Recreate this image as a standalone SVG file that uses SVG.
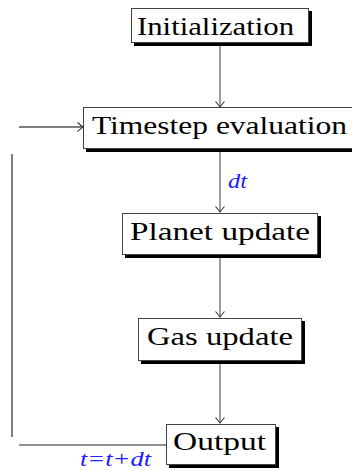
<svg xmlns="http://www.w3.org/2000/svg" width="352" height="471" viewBox="0 0 352 471">
<style>
.box{fill:#fff;stroke:#444;stroke-width:1}
.sh{fill:#000}
.lbl{font-family:"Liberation Serif","DejaVu Serif",serif;font-size:26px;fill:#000}
.math{font-family:"Liberation Serif","DejaVu Serif",serif;font-style:italic;font-size:21px;fill:#2020ff}
.c{stroke:#6a6a6a;stroke-width:1.3;fill:none}
.k{stroke:#000;stroke-width:1;fill:none}
</style>
<defs>
<marker id="ah" markerUnits="userSpaceOnUse" markerWidth="12" markerHeight="12" viewBox="-8 -6 10 12" refX="0" refY="0" orient="auto">
<path d="M-5.5,-4.5 Q-1.5,-1 0,0 Q-1.5,1 -5.5,4.5" fill="none" stroke="#333" stroke-width="1.1"/>
</marker>
</defs>
<g id="connectors">
<line class="c" x1="220" y1="43" x2="220" y2="107" marker-end="url(#ah)"/>
<line class="c" x1="220" y1="152" x2="220" y2="212" marker-end="url(#ah)"/>
<line class="c" x1="220" y1="258" x2="220" y2="317" marker-end="url(#ah)"/>
<line class="c" x1="220" y1="364" x2="220" y2="423" marker-end="url(#ah)"/>
<line class="c" x1="166" y1="445" x2="19" y2="445"/>
<line class="k" x1="12" y1="437" x2="12" y2="154"/>
<line class="k" x1="19" y1="127" x2="83" y2="127" marker-end="url(#ah)"/>
<text class="math" x="228" y="188" textLength="19" lengthAdjust="spacingAndGlyphs">dt</text>
<text class="math" x="80" y="466" textLength="71" lengthAdjust="spacingAndGlyphs">t=t+dt</text>
</g>
<g id="init">
<rect class="sh" x="134" y="11" width="178" height="35"/>
<rect class="box" x="131.5" y="8.5" width="177" height="34"/>
<text class="lbl" x="137" y="35" textLength="157" lengthAdjust="spacingAndGlyphs">Initialization</text>
</g>
<g id="timestep">
<rect class="sh" x="86" y="111" width="280" height="41"/>
<rect class="box" x="83.5" y="107.5" width="280" height="41"/>
<text class="lbl" x="92" y="134" textLength="255" lengthAdjust="spacingAndGlyphs">Timestep evaluation</text>
</g>
<g id="planet">
<rect class="sh" x="125" y="216" width="196" height="42"/>
<rect class="box" x="122.5" y="213.5" width="195" height="41"/>
<text class="lbl" x="130" y="240" textLength="180" lengthAdjust="spacingAndGlyphs">Planet update</text>
</g>
<g id="gas">
<rect class="sh" x="141" y="321" width="164" height="43"/>
<rect class="box" x="138.5" y="318.5" width="163" height="42"/>
<text class="lbl" x="147" y="345" textLength="146" lengthAdjust="spacingAndGlyphs">Gas update</text>
</g>
<g id="output">
<rect class="sh" x="169" y="427" width="110" height="41"/>
<rect class="box" x="166.5" y="424.5" width="109" height="40"/>
<text class="lbl" x="173" y="450" textLength="93" lengthAdjust="spacingAndGlyphs">Output</text>
</g>
</svg>
